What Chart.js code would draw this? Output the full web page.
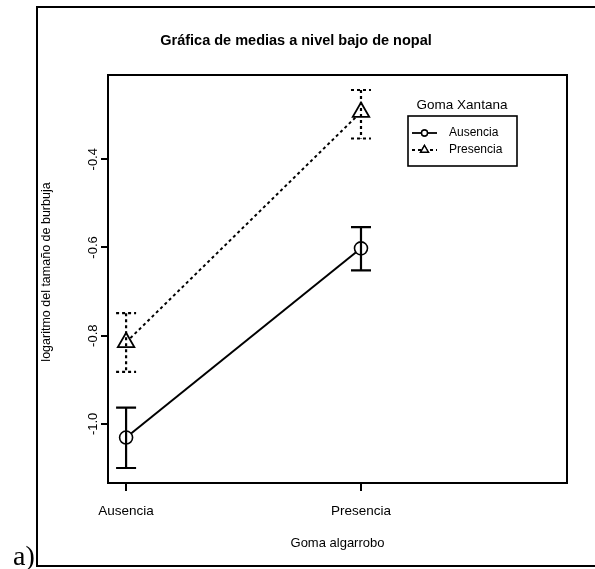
<!DOCTYPE html>
<html>
<head>
<meta charset="utf-8">
<script src="https://cdn.jsdelivr.net/npm/chart.js@4/dist/chart.umd.min.js"></script>
<style>
  html, body { margin: 0; padding: 0; background: #fff; }
  canvas { display: block; }
</style>
</head>
<body>
<canvas id="medias" width="595" height="569"></canvas>
<script>
// niveles de goma algarrobo (eje x)
const categories = ['Ausencia', 'Presencia'];
const xPos = [1, 2];

// medias e intervalos, goma xantana ausente
const mediaAusencia = [-1.031, -0.602];
const infAusencia = [-1.100, -0.652];
const supAusencia = [-0.963, -0.554];

// medias e intervalos, goma xantana presente
const mediaPresencia = [-0.815, -0.293];
const infPresencia = [-0.882, -0.353];
const supPresencia = [-0.749, -0.243];

const yTicks = [-1.0, -0.8, -0.6, -0.4];
const seriesNames = ['Ausencia', 'Presencia'];

const titleText = 'Gráfica de medias a nivel bajo de nopal';
const xTitle = 'Goma algarrobo';
const yTitle = 'logaritmo del tamaño de burbuja';
const legendTitle = 'Goma Xantana';

const FONT = '"Liberation Sans", Arial, Helvetica, sans-serif';
const DOTS = [3, 3];

function toPoints(ys) {
  return xPos.map((x, i) => ({ x: x, y: ys[i] }));
}

function drawErrorBars(chart) {
  const ctx = chart.ctx;
  const xs = chart.scales.x;
  const ys = chart.scales.y;
  const groups = [
    { lo: infAusencia, hi: supAusencia, dash: [] },
    { lo: infPresencia, hi: supPresencia, dash: DOTS },
  ];
  ctx.save();
  ctx.strokeStyle = '#000';
  ctx.lineWidth = 2.2;
  groups.forEach((g) => {
    ctx.setLineDash(g.dash);
    xPos.forEach((x, i) => {
      const px = xs.getPixelForValue(x);
      const top = ys.getPixelForValue(g.hi[i]);
      const bot = ys.getPixelForValue(g.lo[i]);
      ctx.beginPath();
      ctx.moveTo(px, top);
      ctx.lineTo(px, bot);
      ctx.moveTo(px - 10, top);
      ctx.lineTo(px + 10, top);
      ctx.moveTo(px - 10, bot);
      ctx.lineTo(px + 10, bot);
      ctx.stroke();
    });
  });
  ctx.restore();
}

function drawLegend(ctx) {
  ctx.save();
  ctx.fillStyle = '#000';
  ctx.strokeStyle = '#000';
  ctx.textBaseline = 'middle';
  ctx.textAlign = 'center';
  ctx.font = '13.5px ' + FONT;
  ctx.fillText(legendTitle, 462, 105);

  ctx.lineWidth = 1.6;
  ctx.strokeRect(408, 116, 109, 50);

  const rows = [
    { y: 133, dash: [], style: 'circle', r: 3 },
    { y: 150, dash: DOTS, style: 'triangle', r: 4.5 },
  ];
  ctx.font = '12px ' + FONT;
  ctx.textAlign = 'left';
  rows.forEach((row, i) => {
    ctx.setLineDash(row.dash);
    ctx.lineWidth = 1.8;
    ctx.beginPath();
    ctx.moveTo(412, row.y);
    ctx.lineTo(437, row.y);
    ctx.stroke();
    ctx.setLineDash([]);
    ctx.lineWidth = 1.4;
    Chart.helpers.drawPoint(ctx, { pointStyle: row.style, radius: row.r, rotation: 0, borderWidth: 1.4 }, 424.5, row.y);
    ctx.fillStyle = '#fff';
    ctx.fill();
    ctx.stroke();
    ctx.fillStyle = '#000';
    ctx.fillText(seriesNames[i], 449, row.y);
  });
  ctx.restore();
}

const decor = {
  id: 'decor',
  beforeDraw(chart) {
    const ctx = chart.ctx;
    ctx.save();
    ctx.fillStyle = '#fff';
    ctx.fillRect(0, 0, chart.width, chart.height);
    ctx.restore();
  },
  afterDatasetsDraw(chart) {
    drawErrorBars(chart);
  },
  afterDraw(chart) {
    const ctx = chart.ctx;
    const a = chart.chartArea;
    const ys = chart.scales.y;
    ctx.save();
    ctx.strokeStyle = '#000';
    ctx.fillStyle = '#000';
    ctx.lineWidth = 2;
    ctx.strokeRect(a.left, a.top, a.right - a.left, a.bottom - a.top);
    ctx.strokeRect(37, 7, 600, 559);

    ctx.textAlign = 'center';
    ctx.textBaseline = 'middle';
    ctx.font = 'bold 14.5px ' + FONT;
    ctx.fillText(titleText, 296, 41);

    ctx.font = '13px ' + FONT;
    ctx.fillText(xTitle, (a.left + a.right) / 2, 543);

    ctx.font = '13px ' + FONT;
    yTicks.forEach((v) => {
      ctx.save();
      ctx.translate(93, ys.getPixelForValue(v));
      ctx.rotate(-Math.PI / 2);
      ctx.fillText(v.toFixed(1), 0, 0);
      ctx.restore();
    });

    ctx.save();
    ctx.translate(47, 272);
    ctx.rotate(-Math.PI / 2);
    ctx.font = '12.5px ' + FONT;
    ctx.fillText(yTitle, 0, 0);
    ctx.restore();

    ctx.textAlign = 'left';
    ctx.textBaseline = 'alphabetic';
    ctx.font = '28px "Liberation Serif", "Times New Roman", serif';
    ctx.fillText('a)', 13, 565);
    ctx.restore();

    drawLegend(ctx);
  },
};

new Chart(document.getElementById('medias'), {
  type: 'line',
  data: {
    datasets: [
      {
        label: seriesNames[0],
        data: toPoints(mediaAusencia),
        borderColor: '#000',
        borderWidth: 2,
        pointStyle: 'circle',
        pointRadius: 6.5,
        pointBorderWidth: 1.6,
        pointBorderColor: '#000',
        pointBackgroundColor: '#fff',
      },
      {
        label: seriesNames[1],
        data: toPoints(mediaPresencia),
        borderColor: '#000',
        borderWidth: 2,
        borderDash: DOTS,
        pointStyle: 'triangle',
        pointRadius: 9.5,
        pointBorderWidth: 1.8,
        pointBorderColor: '#000',
        pointBackgroundColor: '#fff',
      },
    ],
  },
  options: {
    responsive: false,
    maintainAspectRatio: false,
    animation: false,
    devicePixelRatio: 1,
    layout: { padding: { top: 75, right: 28, bottom: 0, left: 0 } },
    plugins: {
      legend: { display: false },
      title: { display: false },
      tooltip: { enabled: false },
    },
    scales: {
      x: {
        type: 'linear',
        min: 0.923,
        max: 2.877,
        afterBuildTicks: (s) => { s.ticks = xPos.map((v) => ({ value: v })); },
        afterFit: (s) => { s.height = 86; },
        border: { display: false },
        grid: { display: true, drawOnChartArea: false, drawTicks: true, tickLength: 8, color: '#000', lineWidth: 2 },
        ticks: {
          autoSkip: false,
          maxRotation: 0,
          padding: 12,
          color: '#000',
          font: { family: FONT, size: 13.5 },
          callback: (v) => categories[xPos.indexOf(v)],
        },
      },
      y: {
        type: 'linear',
        min: -1.134,
        max: -0.209,
        afterBuildTicks: (s) => { s.ticks = yTicks.map((v) => ({ value: v })); },
        afterFit: (s) => { s.width = 108; },
        border: { display: false },
        grid: { display: true, drawOnChartArea: false, drawTicks: true, tickLength: 7, color: '#000', lineWidth: 2 },
        ticks: { display: false },
      },
    },
  },
  plugins: [decor],
});
</script>
</body>
</html>
